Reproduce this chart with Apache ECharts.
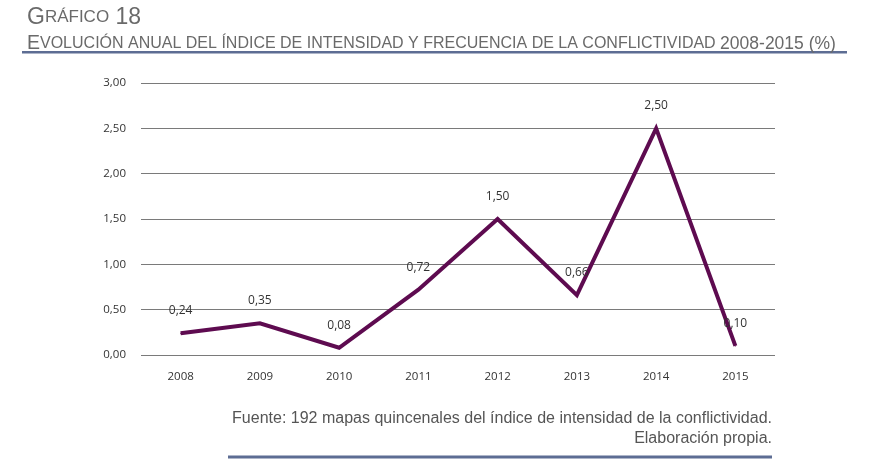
<!DOCTYPE html>
<html>
<head>
<meta charset="utf-8">
<script src="https://cdn.jsdelivr.net/npm/echarts@6/dist/echarts.min.js"></script>
<style>
html,body{margin:0;padding:0;background:#fff;}
#c{width:879px;height:465px;}
</style>
</head>
<body>
<div id="c"></div>
<script>
const years = ['2008','2009','2010','2011','2012','2013','2014','2015'];
const values = [0.24, 0.35, 0.08, 0.72, 1.50, 0.66, 2.50, 0.10];
const yTicks = {min: 0, max: 3, interval: 0.5};
const fmt = v => Number(v).toFixed(2).replace('.', ',');

const titleColor = '#6a6a6a';
const ff = 'Liberation Sans';
const chart = echarts.init(document.getElementById('c'), null, {renderer: 'canvas'});
chart.setOption({
  animation: false,
  backgroundColor: '#fff',
  title: [
    {
      left: 22, top: 1,
      text: '{a|G}{b|RÁFICO}{a| 18}',
      textStyle: {
        fontWeight: 'normal',
        rich: {
          a: {fontFamily: ff, fontSize: 23, fontWeight: 'normal', color: titleColor},
          b: {fontFamily: ff, fontSize: 17, fontWeight: 'normal', color: titleColor}
        }
      }
    },
    {
      left: 22, top: 29,
      text: '{a|E}{b|VOLUCIÓN ANUAL DEL ÍNDICE DE INTENSIDAD Y FRECUENCIA DE LA CONFLICTIVIDAD }{c|2008-2015 (%)}',
      textStyle: {
        fontWeight: 'normal',
        rich: {
          a: {fontFamily: ff, fontSize: 19.5, fontWeight: 'normal', color: titleColor},
          b: {fontFamily: ff, fontSize: 16, fontWeight: 'normal', color: titleColor},
          c: {fontFamily: ff, fontSize: 17.5, fontWeight: 'normal', color: titleColor}
        }
      }
    }
  ],
  graphic: [
    {type: 'rect', shape: {x: 22, y: 51, width: 825, height: 2.5}, style: {fill: '#5d6d93'}, silent: true},
    {type: 'rect', shape: {x: 228, y: 455.5, width: 544, height: 3}, style: {fill: '#5d6d93'}, silent: true},
    {type: 'text', x: 772, y: 411, style: {text: 'Fuente: 192 mapas quincenales del índice de intensidad de la conflictividad.', align: 'right', verticalAlign: 'top', font: '16px "Liberation Sans"', fill: '#555'}},
    {type: 'text', x: 772, y: 431, style: {text: 'Elaboración propia.', align: 'right', verticalAlign: 'top', font: '16px "Liberation Sans"', fill: '#555'}}
  ],
  grid: {left: 141, right: 104, top: 83, bottom: 110, containLabel: false},
  xAxis: {
    type: 'category',
    data: years,
    boundaryGap: true,
    axisLine: {show: false},
    axisTick: {show: false},
    axisLabel: {margin: 16, fontFamily: 'Open Sans', fontSize: 11.5, color: '#333'}
  },
  yAxis: {
    type: 'value',
    min: yTicks.min, max: yTicks.max, interval: yTicks.interval,
    axisLine: {show: false},
    axisTick: {show: false},
    axisLabel: {margin: 15, fontFamily: 'Open Sans', fontSize: 11.5, color: '#333', formatter: fmt},
    splitLine: {lineStyle: {color: '#7a7a7a', width: 1}}
  },
  series: [{
    type: 'line',
    data: values,
    symbol: 'circle',
    symbolSize: 1,
    showSymbol: true,
    lineStyle: {color: '#5e0b50', width: 4, join: 'miter'},
    itemStyle: {color: '#5e0b50'},
    label: {
      show: true, position: 'top', distance: 16,
      fontFamily: 'Open Sans', fontSize: 12, color: '#333',
      formatter: p => fmt(p.value)
    }
  }]
});
</script>
</body>
</html>
